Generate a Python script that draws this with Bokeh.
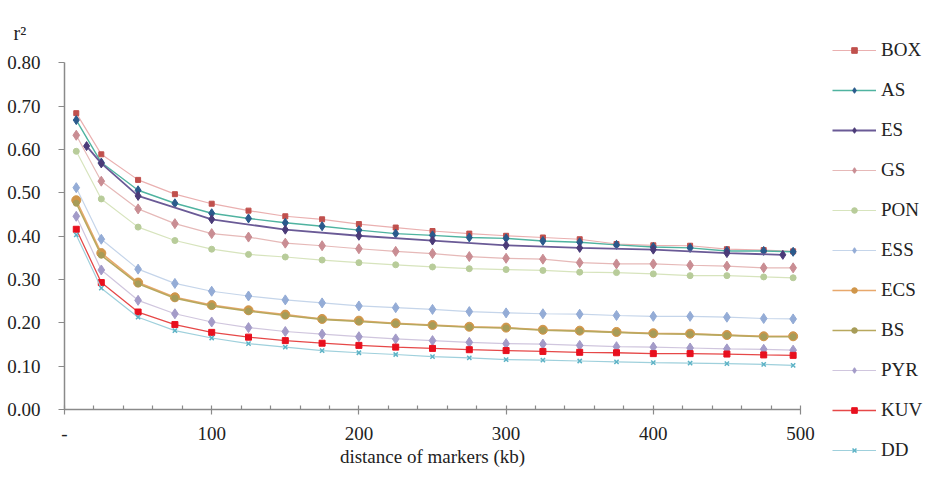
from bokeh.plotting import figure
from bokeh.models import FixedTicker, Legend, Label, PrintfTickFormatter, Range1d
from bokeh.embed import file_html
from bokeh.resources import INLINE

# ---------------- data ----------------
x_kb = [8, 25, 50, 75, 100, 125, 150, 175, 200, 225, 250, 275, 300, 325, 350, 375, 400, 425, 450, 475, 495]
es_x = [15, 25, 50, 100, 150, 200, 250, 300, 350, 400, 450, 488]

BOX = [0.684, 0.589, 0.530, 0.497, 0.475, 0.459, 0.446, 0.439, 0.428, 0.420, 0.412, 0.406, 0.401, 0.397, 0.393, 0.382, 0.379, 0.378, 0.370, 0.368, 0.365]
AS = [0.668, 0.570, 0.506, 0.476, 0.453, 0.441, 0.431, 0.423, 0.414, 0.406, 0.402, 0.397, 0.395, 0.389, 0.386, 0.380, 0.375, 0.373, 0.366, 0.366, 0.364]
ES = [0.608, 0.568, 0.493, 0.439, 0.415, 0.401, 0.390, 0.379, 0.373, 0.369, 0.361, 0.357]
GS = [0.633, 0.527, 0.463, 0.429, 0.406, 0.398, 0.384, 0.378, 0.371, 0.365, 0.360, 0.353, 0.349, 0.347, 0.339, 0.336, 0.336, 0.333, 0.331, 0.327, 0.327]
PON = [0.596, 0.486, 0.421, 0.390, 0.370, 0.358, 0.352, 0.345, 0.339, 0.334, 0.329, 0.325, 0.323, 0.321, 0.317, 0.316, 0.313, 0.309, 0.309, 0.306, 0.304]
ESS = [0.512, 0.393, 0.324, 0.291, 0.273, 0.262, 0.253, 0.246, 0.239, 0.235, 0.231, 0.226, 0.223, 0.221, 0.220, 0.217, 0.215, 0.215, 0.213, 0.210, 0.209]
ECS = [0.483, 0.361, 0.293, 0.259, 0.241, 0.229, 0.219, 0.209, 0.205, 0.199, 0.195, 0.191, 0.189, 0.184, 0.182, 0.179, 0.176, 0.175, 0.172, 0.169, 0.169]
BS = [0.476, 0.356, 0.290, 0.257, 0.239, 0.227, 0.217, 0.208, 0.203, 0.198, 0.194, 0.190, 0.188, 0.183, 0.181, 0.178, 0.175, 0.174, 0.171, 0.168, 0.168]
PYR = [0.446, 0.322, 0.252, 0.221, 0.202, 0.189, 0.180, 0.174, 0.168, 0.163, 0.159, 0.155, 0.152, 0.151, 0.148, 0.145, 0.144, 0.142, 0.140, 0.139, 0.137]
KUV = [0.416, 0.293, 0.225, 0.196, 0.178, 0.167, 0.159, 0.153, 0.148, 0.144, 0.141, 0.138, 0.136, 0.134, 0.132, 0.131, 0.129, 0.129, 0.128, 0.126, 0.125]
DD = [0.403, 0.280, 0.213, 0.182, 0.165, 0.152, 0.144, 0.136, 0.131, 0.127, 0.122, 0.119, 0.115, 0.114, 0.112, 0.110, 0.108, 0.107, 0.106, 0.104, 0.102]

x_ticks = [0, 100, 200, 300, 400, 500]
x_tick_labels = {0: "-", 100: "100", 200: "200", 300: "300", 400: "400", 500: "500"}
x_minor = [20, 40, 60, 80, 120, 140, 160, 180, 220, 240, 260, 280, 320, 340, 360, 380, 420, 440, 460, 480]
y_ticks = [0.0, 0.1, 0.2, 0.3, 0.4, 0.5, 0.6, 0.7, 0.8]

# name, x, y, line colour, line width, marker, marker colour, marker size
series = [
    ("BOX", x_kb, BOX, "#eab0b0", 1.2, "square", "#c0504d", 5),
    ("AS", x_kb, AS, "#4fb3a0", 1.4, "diamond", "#2a5a8c", 9),
    ("ES", es_x, ES, "#6a5a96", 1.8, "diamond", "#4b3b78", 9),
    ("GS", x_kb, GS, "#e6b9b8", 1.2, "diamond", "#c98d93", 10),
    ("PON", x_kb, PON, "#d7e4bd", 1.2, "circle", "#b8cc9a", 6),
    ("ESS", x_kb, ESS, "#c5d5ea", 1.2, "diamond", "#94acd6", 10),
    ("ECS", x_kb, ECS, "#e8a86c", 1.6, "circle", "#d0964a", 9),
    ("BS", x_kb, BS, "#b8a85e", 1.6, "circle", "#a79c58", 6),
    ("PYR", x_kb, PYR, "#d0c6de", 1.2, "diamond", "#a39bc8", 10),
    ("KUV", x_kb, KUV, "#e64848", 1.3, "square", "#e8101e", 6),
    ("DD", x_kb, DD, "#9fd0dc", 1.2, "x", "#5db3c6", 6),
]

FONT = "Liberation Serif"
W, H = 924, 469
# axes area inside the canvas (pixels): x=0 kb at 64, 1.472 px per kb; r2=0 at 409, 0.8 at 62.4
PX_PER_KB = 736 / 500
X0_PX = 64
PX_PER_R2 = (409 - 62.4) / 0.8
Y0_PX = 409
x_start = -X0_PX / PX_PER_KB
x_end = x_start + W / PX_PER_KB
y_end = Y0_PX / PX_PER_R2
y_start = -(H - Y0_PX) / PX_PER_R2

p = figure(width=W, height=H, output_backend="svg", toolbar_location=None,
           x_range=Range1d(x_start, x_end), y_range=Range1d(y_start, y_end),
           min_border_left=0, min_border_right=0, min_border_top=0, min_border_bottom=0)
p.outline_line_color = None
p.xgrid.grid_line_color = None
p.ygrid.grid_line_color = None
p.background_fill_color = "white"

items = []
for name, xs, ys, lc, lw, mk, mc, ms in series:
    r1 = p.line(xs, ys, line_color=lc, line_width=lw)
    r2 = p.scatter(xs, ys, marker=mk, size=ms, fill_color=mc, line_color=mc,
                   line_width=1.5 if mk == "x" else 1)
    items.append((name, [r1, r2]))

# axes (drawn at x=0 / y=0, bounded to the data area)
xa = p.xaxis[0]
xa.fixed_location = 0
xa.bounds = (0, 500)
xa.ticker = FixedTicker(ticks=x_ticks, minor_ticks=x_minor)
xa.major_label_overrides = x_tick_labels
xa.axis_line_color = "#8a8a8a"
xa.axis_line_width = 1.5
xa.major_tick_line_color = "#8a8a8a"
xa.minor_tick_line_color = "#8a8a8a"
xa.major_tick_line_width = 1.2
xa.minor_tick_line_width = 1.2
xa.major_tick_in = 4
xa.major_tick_out = 5
xa.minor_tick_in = 4
xa.minor_tick_out = 0
xa.major_label_standoff = 12
xa.major_label_text_font = FONT
xa.major_label_text_font_size = "19px"
xa.major_label_text_color = "#222222"
xa.axis_label = "distance of markers (kb)"
xa.axis_label_text_font = FONT
xa.axis_label_text_font_size = "19px"
xa.axis_label_text_font_style = "normal"
xa.axis_label_text_color = "#222222"
xa.axis_label_standoff = 3

ya = p.yaxis[0]
ya.fixed_location = 0
ya.bounds = (0, 0.8)
ya.ticker = FixedTicker(ticks=y_ticks)
ya.formatter = PrintfTickFormatter(format="%.2f")
ya.axis_line_color = "#8a8a8a"
ya.axis_line_width = 1.5
ya.major_tick_line_color = "#8a8a8a"
ya.major_tick_line_width = 1.2
ya.major_tick_in = 0
ya.major_tick_out = 6
ya.minor_tick_line_color = None
ya.major_label_standoff = 18
ya.major_label_text_font = FONT
ya.major_label_text_font_size = "19px"
ya.major_label_text_color = "#222222"

# r^2 caption above the y axis
p.add_layout(Label(x=-34.6, y=0.870, text="r²", text_font=FONT, text_font_size="20px",
                   text_color="#222222", text_align="left", text_baseline="alphabetic"))

legend = Legend(items=items, location=(832, 8), orientation="vertical",
                glyph_width=44, glyph_height=14, label_height=22, spacing=18,
                label_standoff=5, padding=0, margin=0,
                border_line_color=None, background_fill_alpha=0,
                label_text_font=FONT, label_text_font_size="19px", label_text_color="#222222")
p.add_layout(legend, "center")

open("out.html", "w").write(file_html(p, INLINE))
